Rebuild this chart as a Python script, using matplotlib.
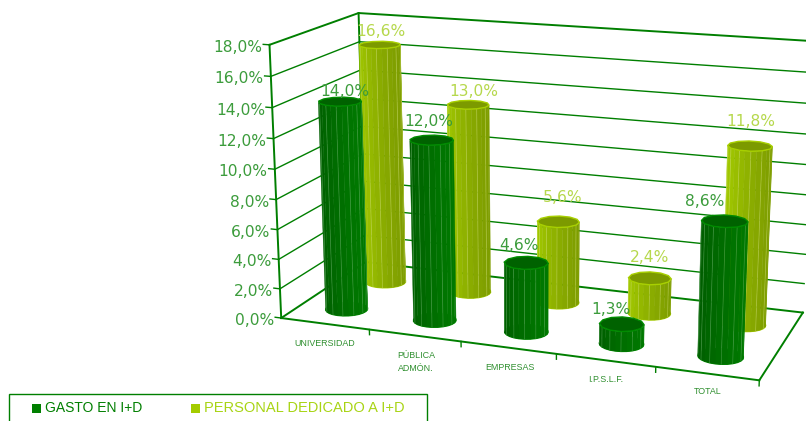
import numpy as np
import matplotlib
matplotlib.use('Agg')
import matplotlib.pyplot as plt
from matplotlib.patches import Polygon, Rectangle

# Datos del grafico
categorias = ['UNIVERSIDAD', 'PÚBLICA\nADMÓN.', 'EMPRESAS', 'I.P.S.L.F.', 'TOTAL']
gasto = [14.0, 12.0, 4.6, 1.3, 8.6]
personal = [16.6, 13.0, 5.6, 2.4, 11.8]
ticks_y = [0, 2, 4, 6, 8, 10, 12, 14, 16, 18]
serie_nombres = ['GASTO EN I+D', 'PERSONAL DEDICADO A I+D']

VERDE = '#007f00'
VERDE_TXT = '#3c9c3c'
LIMA_TXT = '#b6d84c'
YMAX = 18.0

# Esquinas de la caja en la imagen, para sacar la camara
esq_caja = [(0, 0, 0), (1, 0, 0), (1, 1, 0), (0, 1, 0), (0, 0, 1), (0, 1, 1), (1, 1, 1)]
esq_pix = [(281, 320), (759, 379), (803, 314), (366, 260), (270, 44), (358, 14), (815, 41)]

filas = []
lado = []
for (x, d, v), (u, w) in zip(esq_caja, esq_pix):
    filas.append([x, d, v, 1, 0, 0, 0, 0, -u * x, -u * d, -u * v])
    lado.append(u)
    filas.append([0, 0, 0, 0, x, d, v, 1, -w * x, -w * d, -w * v])
    lado.append(w)
sol = np.linalg.lstsq(np.array(filas, float), np.array(lado, float), rcond=None)[0]
P = np.append(sol, 1).reshape(3, 4)


def proyectar(x, d, valor):
    # categoria (0-1), profundidad (0-1), valor en % a pixel
    p = P @ np.array([x, d, valor / YMAX, 1.0])
    return p[0] / p[2], p[1] / p[2]


def mezclar(c1, c2, t):
    a = np.array(matplotlib.colors.to_rgb(c1))
    b = np.array(matplotlib.colors.to_rgb(c2))
    return tuple(a + (b - a) * t)


def cilindro(ax, xc, dc, valor, col_izq, col_der, col_tapa, col_borde, col_raya, orden):
    n = 24
    rx, rd = 0.044, 0.105
    ang = np.linspace(0, 2 * np.pi, n + 1) + np.radians(15)
    abajo = [proyectar(xc + rx * np.cos(a), dc + rd * np.sin(a), 0) for a in ang]
    arriba = [proyectar(xc + rx * np.cos(a), dc + rd * np.sin(a), valor) for a in ang]
    # base y tapa
    ax.add_patch(Polygon(abajo, closed=True, fc=col_izq, ec=col_borde, lw=1.0, zorder=orden - 0.1))
    for i in range(n):
        a, b, c, e = abajo[i], abajo[i + 1], arriba[i + 1], arriba[i]
        area = (b[0] - a[0]) * (e[1] - a[1]) - (b[1] - a[1]) * (e[0] - a[0])
        if area >= 0:
            continue
        t = 0.5 + 0.5 * np.cos((ang[i] + ang[i + 1]) / 2)
        ax.add_patch(Polygon([a, b, c, e], closed=True, fc=mezclar(col_izq, col_der, t),
                             ec=mezclar(col_izq, col_der, t), lw=0.3, zorder=orden))
        if i % 2 == 0:
            ax.plot([a[0], e[0]], [a[1], e[1]], color=col_raya, lw=0.5, alpha=0.55, zorder=orden + 0.1)
    ax.add_patch(Polygon(arriba[::2], closed=True, fc=col_tapa, ec=col_borde, lw=1.0, zorder=orden + 0.2))


fig = plt.figure(figsize=(8.06, 4.21), dpi=100)
ax = fig.add_axes([0, 0, 1, 1])
ax.set_xlim(0, 806)
ax.set_ylim(421, 0)
ax.axis('off')

# Paredes y rejilla
for t in ticks_y:
    p0, p1, p2 = proyectar(0, 0, t), proyectar(0, 1, t), proyectar(1, 1, t)
    gros = 1.4 if t in (0, 18) else 1.0
    ax.plot([p0[0], p1[0], p2[0]], [p0[1], p1[1], p2[1]], color=VERDE, lw=gros, zorder=1)
    m = proyectar(-0.014, 0, t)
    ax.plot([m[0], p0[0]], [m[1], p0[1]], color=VERDE, lw=1.0, zorder=1)
    ax.text(m[0] - 1, p0[1] + 2.5, f'{t},0%', color=VERDE_TXT, fontsize=11.2, ha='right', va='center')

for a, b in [((0, 0, 0), (0, 0, YMAX)), ((0, 1, 0), (0, 1, YMAX)),
             ((0, 0, 0), (1, 0, 0)), ((1, 0, 0), (1, 1, 0))]:
    pa, pb = proyectar(*a), proyectar(*b)
    ax.plot([pa[0], pb[0]], [pa[1], pb[1]], color=VERDE, lw=1.4, zorder=1)

# Marcas del eje de categorias
for i in range(1, 6):
    a, b = proyectar(i / 5, 0, 0), proyectar(i / 5, 0, -0.35)
    ax.plot([a[0], b[0]], [a[1], b[1]], color=VERDE, lw=1.0, zorder=1)

# Cilindros, primero la fila de atras
for i in range(5):
    xc = (i + 0.5) / 5 + 0.002
    cilindro(ax, xc, 0.72, personal[i], '#a4cc00', '#7f9e00', '#7c9a00', '#a8d000', '#cfe070', 10 + i)
for i in range(5):
    xc = (i + 0.5) / 5 + 0.002
    cilindro(ax, xc, 0.24, gasto[i], '#005c00', '#007800', '#006200', '#008c00', '#66b066', 20 + i)

# Etiquetas de valores, donde caen en el original
pos_gasto = [(345, 91), (429, 122), (519, 246), (611, 310), (705, 202)]
pos_personal = [(381, 31), (474, 92), (563, 198), (650, 258), (751, 122)]
for i in range(5):
    ax.text(pos_gasto[i][0], pos_gasto[i][1], f'{gasto[i]:.1f}%'.replace('.', ','), color=VERDE_TXT,
            fontsize=11.2, ha='center', va='center', zorder=40)
    ax.text(pos_personal[i][0], pos_personal[i][1], f'{personal[i]:.1f}%'.replace('.', ','), color=LIMA_TXT,
            fontsize=11.2, ha='center', va='center', zorder=40)

# Nombres de categorias
pos_cat = [(325, 343), (416, 362), (510, 367), (606, 379), (708, 391)]
for nombre, (x, y) in zip(categorias, pos_cat):
    ax.text(x, y, nombre, color='#2f8f2f', fontsize=6.4, family='Liberation Sans',
            ha='center', va='center', linespacing=1.55)

# Leyenda
ax.add_patch(Rectangle((8.5, 393.5), 418, 40, fc='white', ec=VERDE, lw=1.0, zorder=30))
ax.add_patch(Rectangle((32, 404), 9, 9, fc=VERDE, ec='none', zorder=31))
ax.add_patch(Rectangle((191, 404), 9, 9, fc='#a4cc00', ec='none', zorder=31))
ax.text(45, 408, serie_nombres[0], color=VERDE, fontsize=10.0, family='Liberation Sans', va='center', zorder=31)
ax.text(204, 408, serie_nombres[1], color='#a8d414', fontsize=10.55, family='Liberation Sans', va='center', zorder=31)

fig.savefig('out.png', dpi=100)
